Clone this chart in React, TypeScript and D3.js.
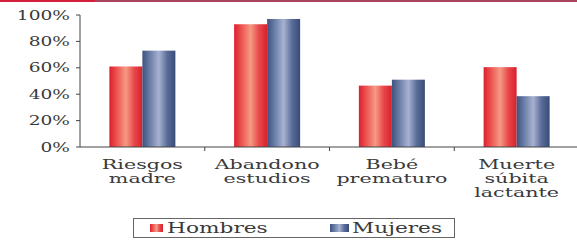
import * as d3 from "d3";

const categories: string[][] = [
  ["Riesgos", "madre"],
  ["Abandono", "estudios"],
  ["Bebé", "prematuro"],
  ["Muerte", "súbita", "lactante"],
];
const seriesNames = ["Hombres", "Mujeres"];
const hombres = [0.61, 0.93, 0.465, 0.605];
const mujeres = [0.73, 0.97, 0.51, 0.385];
const yTicks = [0, 0.2, 0.4, 0.6, 0.8, 1];

const W = 577;
const H = 240;
const SX = 1.55; // horizontal stretch of the text, as in the reference
const FONT = "'DejaVu Serif', serif";
const TXT = "#3a3a3a";

const colors: Record<string, string[]> = {
  Hombres: ["#dc1f2e", "#ee5a55", "#f59a84", "#e8484a", "#d8202c"],
  Mujeres: ["#3d527e", "#6f82aa", "#a8b2d2", "#5a6d98", "#394c78"],
};

function Stretched(props: { x: number; y: number; anchor: string; size: number; sx?: number; children: string }) {
  return (
    <text
      transform={`translate(${props.x},${props.y}) scale(${props.sx ?? SX},1)`}
      textAnchor={props.anchor}
      fontSize={props.size}
      fontFamily={FONT}
      fill={TXT}
    >
      {props.children}
    </text>
  );
}

export default function App() {
  const keys = categories.map((c) => c.join(" "));
  const x0 = d3.scaleBand<string>().domain(keys).range([80, 579]).padding(0);
  const x1 = d3
    .scaleBand<string>()
    .domain(seriesNames)
    .range([0, x0.bandwidth()])
    .paddingInner(0)
    .paddingOuter(0.89);
  const y = d3.scaleLinear().domain([0, 1]).range([147, 15]);
  const values: Record<string, number[]> = { Hombres: hombres, Mujeres: mujeres };
  const fmt = d3.format(".0%");

  return (
    <svg
      width={W}
      height={H}
      style={{ position: "absolute", left: 0, top: 0, background: "#fff" }}
    >
      <defs>
        {seriesNames.map((s) => (
          <linearGradient key={s} id={`g-${s}`} x1="0" x2="1" y1="0" y2="0">
            {colors[s].map((c, i) => (
              <stop key={i} offset={i / (colors[s].length - 1)} stopColor={c} />
            ))}
          </linearGradient>
        ))}
      </defs>

      {/* top rule */}
      <rect x={0} y={0} width={W} height={2} fill="#a8445e" />
      <rect x={0} y={0} width={95} height={2} fill="#d41e3c" />

      {/* bars */}
      {keys.map((k, i) => (
        <g key={k} transform={`translate(${x0(k)},0)`}>
          {seriesNames.map((s) => (
            <rect
              key={s}
              x={x1(s)}
              y={y(values[s][i])}
              width={x1.bandwidth()}
              height={y(0) - y(values[s][i])}
              fill={`url(#g-${s})`}
            />
          ))}
        </g>
      ))}

      {/* y axis */}
      <line x1={80} x2={80} y1={y(1)} y2={y(0)} stroke="#444" strokeWidth={1} />
      {yTicks.map((t) => (
        <g key={t}>
          <line x1={76} x2={80} y1={y(t)} y2={y(t)} stroke="#444" />
          <Stretched x={70} y={y(t) + 4.5} anchor="end" size={12}>
            {fmt(t)}
          </Stretched>
        </g>
      ))}

      {/* x axis */}
      <line x1={80} x2={W} y1={y(0)} y2={y(0)} stroke="#444" strokeWidth={1} />
      {keys.slice(1).map((k) => (
        <line key={k} x1={x0(k)} x2={x0(k)} y1={y(0)} y2={y(0) + 4} stroke="#444" />
      ))}
      {categories.map((lines, i) => {
        const cx = (x0(keys[i]) as number) + x0.bandwidth() / 2;
        return lines.map((ln, j) => (
          <Stretched key={`${i}-${j}`} x={cx} y={168.5 + j * 14} anchor="middle" size={12.5} sx={1.65}>
            {ln}
          </Stretched>
        ));
      })}

      {/* legend */}
      <rect x={133.5} y={218.5} width={321} height={19} fill="none" stroke="#666" />
      <rect x={150} y={224} width={13} height={8} fill="url(#g-Hombres)" />
      <Stretched x={167} y={233} anchor="start" size={14}>
        {seriesNames[0]}
      </Stretched>
      <rect x={330} y={224} width={19} height={8} fill="url(#g-Mujeres)" />
      <Stretched x={352} y={233} anchor="start" size={14}>
        {seriesNames[1]}
      </Stretched>
    </svg>
  );
}
